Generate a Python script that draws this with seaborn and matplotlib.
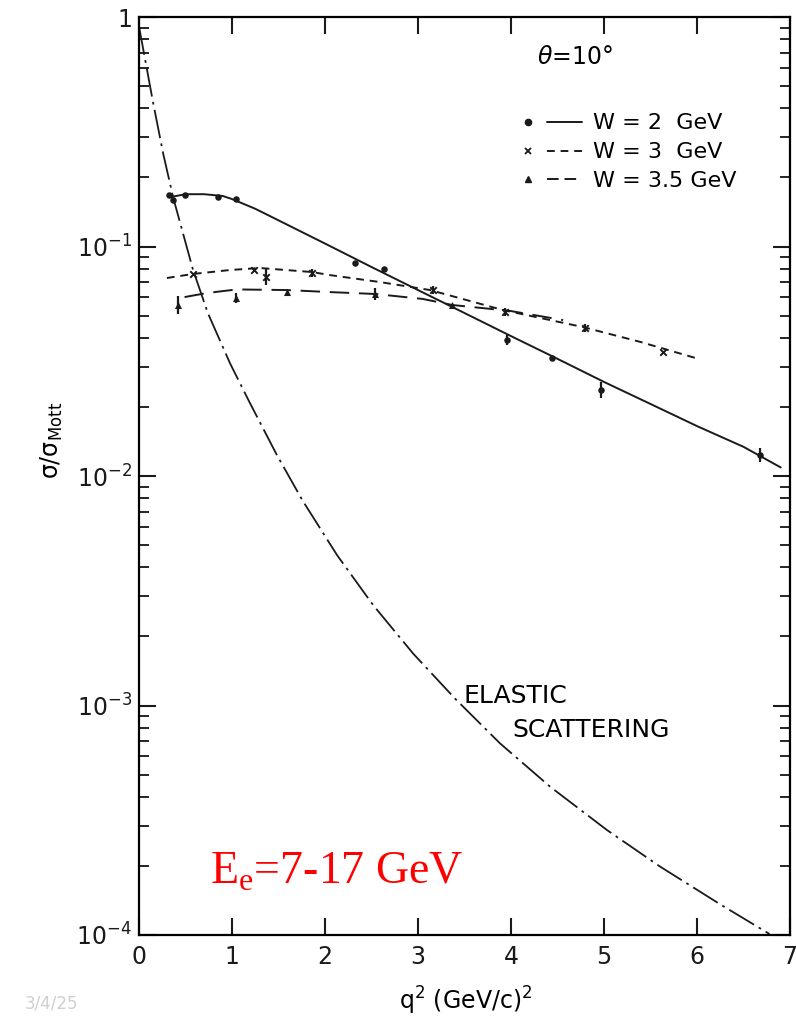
import numpy as np
import pandas as pd
import matplotlib
matplotlib.use("Agg")
import matplotlib.pyplot as plt
import seaborn as sns
from matplotlib.lines import Line2D
from matplotlib.legend_handler import HandlerTuple
from matplotlib.ticker import FixedLocator, FixedFormatter, LogLocator, NullFormatter

# ---------------- data ----------------
# W = 2 GeV : fitted curve and measured points
q_w2_curve = [0.33, 0.5, 0.7, 0.9, 1.0, 1.25, 1.5, 2.0, 2.5, 3.0, 3.5, 4.0, 4.5, 5.0, 5.5, 6.0, 6.5, 6.9]
s_w2_curve = [0.164, 0.169, 0.169, 0.166, 0.161, 0.146, 0.130, 0.103, 0.0814, 0.0646, 0.0513, 0.0407,
              0.0324, 0.0257, 0.0206, 0.0165, 0.0134, 0.0109]
q_w2_pts = [0.32, 0.37, 0.49, 0.85, 1.04, 2.32, 2.63, 3.96, 4.44, 4.97, 6.68]
s_w2_pts = [0.168, 0.160, 0.168, 0.164, 0.161, 0.0848, 0.0798, 0.0392, 0.0327, 0.0237, 0.0124]
e_w2_pts = [0, 0, 0, 0, 0, 0, 0, 0.05, 0, 0.08, 0.07]

# W = 3 GeV
q_w3_curve = [0.30, 0.58, 0.98, 1.30, 1.86, 2.05, 2.59, 3.13, 3.91, 4.77, 5.39, 5.98]
s_w3_curve = [0.0729, 0.0759, 0.0790, 0.0806, 0.0774, 0.0751, 0.0700, 0.0646, 0.0529, 0.0446, 0.0384, 0.0327]
q_w3_pts = [0.58, 1.24, 1.37, 1.86, 3.16, 3.94, 4.80, 5.63]
s_w3_pts = [0.0759, 0.0790, 0.0736, 0.0767, 0.0646, 0.0518, 0.0442, 0.0347]
e_w3_pts = [0, 0, 0.08, 0.04, 0.04, 0.04, 0.04, 0]

# W = 3.5 GeV
q_w35_curve = [0.49, 0.73, 1.05, 1.59, 2.05, 2.54, 3.05, 3.37, 3.99, 4.56]
s_w35_curve = [0.0602, 0.0627, 0.0650, 0.0646, 0.0633, 0.0621, 0.0591, 0.0556, 0.0524, 0.0478]
q_w35_pts = [0.42, 1.04, 1.59, 2.54, 3.37]
s_w35_pts = [0.0556, 0.0597, 0.0633, 0.0621, 0.0556]
e_w35_pts = [0.09, 0.05, 0, 0.06, 0]

# Elastic scattering
q_el = [0.0, 0.15, 0.26, 0.37, 0.58, 0.74, 0.98, 1.19, 1.48, 1.76, 2.13, 2.52, 2.95, 3.40, 3.88,
        4.42, 5.03, 5.60, 6.25, 6.78]
s_el = [0.91, 0.427, 0.254, 0.162, 0.0794, 0.0513, 0.0309, 0.0209, 0.0124, 0.0078, 0.00452, 0.00273,
        0.00168, 0.00107, 0.000685, 0.000443, 0.000287, 0.000199, 0.000136, 0.000101]

x_ticks = [0, 1, 2, 3, 4, 5, 6, 7]
y_ticks = [1e-4, 1e-3, 1e-2, 1e-1, 1]
y_ticklabels = ["10$^\\mathdefault{-4}$", "10$^\\mathdefault{-3}$", "10$^\\mathdefault{-2}$",
                "10$^\\mathdefault{-1}$", "1"]
legend_labels = ["W = 2  GeV", "W = 3  GeV", "W = 3.5 GeV"]

# ---------------- style ----------------
sns.set_theme(style="white")
plt.rcParams["font.family"] = ["DejaVu Sans"]
plt.rcParams["axes.edgecolor"] = "black"
plt.rcParams["axes.linewidth"] = 1.6
plt.rcParams["text.color"] = "black"
plt.rcParams["axes.labelcolor"] = "black"
plt.rcParams["xtick.color"] = "black"
plt.rcParams["ytick.color"] = "black"

fig = plt.figure(figsize=(7.96, 10.16), dpi=100)
ax = fig.add_axes([139 / 796, 81 / 1016, 651 / 796, 918 / 1016])
ax.set_yscale("log")

lw = 1.4
sns.lineplot(x=q_w2_curve, y=s_w2_curve, ax=ax, color="k", lw=lw, sort=False, errorbar=None)
sns.lineplot(x=q_w3_curve, y=s_w3_curve, ax=ax, color="k", lw=lw, sort=False, errorbar=None,
             linestyle=(0, (4, 3)))
sns.lineplot(x=q_w35_curve, y=s_w35_curve, ax=ax, color="k", lw=lw, sort=False, errorbar=None,
             linestyle=(0, (10, 5)))
sns.lineplot(x=q_el, y=s_el, ax=ax, color="k", lw=1.3, sort=False, errorbar=None,
             linestyle=(0, (16, 3, 1.5, 3)))

sns.scatterplot(x=q_w2_pts, y=s_w2_pts, ax=ax, marker="o", s=22, color="k", linewidth=0, zorder=4)
sns.scatterplot(x=q_w3_pts, y=s_w3_pts, ax=ax, marker="x", s=22, color="k", linewidth=1.4, zorder=4)
sns.scatterplot(x=q_w35_pts, y=s_w35_pts, ax=ax, marker="^", s=26, color="k", linewidth=0, zorder=4)

for qs, ss, es in [(q_w2_pts, s_w2_pts, e_w2_pts), (q_w3_pts, s_w3_pts, e_w3_pts),
                   (q_w35_pts, s_w35_pts, e_w35_pts)]:
    df = pd.DataFrame({"q": qs, "s": ss, "e": es})
    df = df[df.e > 0]
    ax.errorbar(df.q, df.s, yerr=df.s * df.e, fmt="none", ecolor="k", elinewidth=1.6, capsize=0, zorder=4)

ax.set_xlim(0, 7)
ax.set_ylim(1e-4, 1)
ax.xaxis.set_major_locator(FixedLocator(x_ticks))
ax.yaxis.set_major_locator(FixedLocator(y_ticks))
ax.yaxis.set_major_formatter(FixedFormatter(y_ticklabels))
ax.yaxis.set_minor_locator(LogLocator(base=10, subs=np.arange(2, 10)))
ax.yaxis.set_minor_formatter(NullFormatter())
ax.tick_params(axis="both", which="major", direction="in", length=12, width=1.5,
               top=True, right=True, bottom=True, left=True, labelsize=17, colors="k")
ax.tick_params(axis="x", which="major", pad=7)
ax.tick_params(axis="y", which="major", pad=5)
ax.tick_params(axis="y", which="minor", direction="in", length=7, width=1.2, left=True, right=True)
ax.set_xlabel("")
ax.set_ylabel("")
ax.grid(False)

# legend
handles = [
    (Line2D([], [], marker="o", ls="none", color="k", ms=4.5), Line2D([], [], color="k", lw=lw)),
    (Line2D([], [], marker="x", ls="none", color="k", ms=4.5, mew=1.3),
     Line2D([], [], color="k", lw=lw, linestyle=(0, (4, 3)))),
    (Line2D([], [], marker="^", ls="none", color="k", ms=5),
     Line2D([], [], color="k", lw=lw, linestyle=(0, (6, 3)))),
]
ax.legend(handles, legend_labels, handler_map={tuple: HandlerTuple(ndivide=None, pad=0.05)},
          loc="upper left", bbox_to_anchor=(0.571, 0.895), frameon=False, fontsize=16,
          handlelength=3.2, handletextpad=0.5, labelspacing=0.4, borderpad=0, borderaxespad=0)

# annotations
ax.text(0.611, 0.956, "$\\theta$=10°", transform=ax.transAxes, fontsize=17, va="center", ha="left")
ax.text(0.498, 0.2603, "ELASTIC", transform=ax.transAxes, fontsize=18, va="center", ha="left")
ax.text(0.573, 0.2233, "SCATTERING", transform=ax.transAxes, fontsize=18, va="center", ha="left")
ax.text(0.109, 0.0566, "E$_\\mathdefault{e}$=7-17 GeV", transform=ax.transAxes, fontsize=33,
        color="#ff0000", family="Liberation Serif", va="baseline", ha="left")

fig.text(52 / 796, 1 - 440 / 1016, "σ/σ$_\\mathdefault{Mott}$", rotation=90, fontsize=17,
         va="center", ha="center")
fig.text(466 / 796, 1 - 1001 / 1016, "q$^\\mathdefault{2}$ (GeV/c)$^\\mathdefault{2}$", fontsize=17,
         va="center", ha="center")
fig.text(25 / 796, 1 - 1004 / 1016, "3/4/25", fontsize=12, color="#cfcfcf", va="center", ha="left")

fig.savefig("out.png", dpi=100)
